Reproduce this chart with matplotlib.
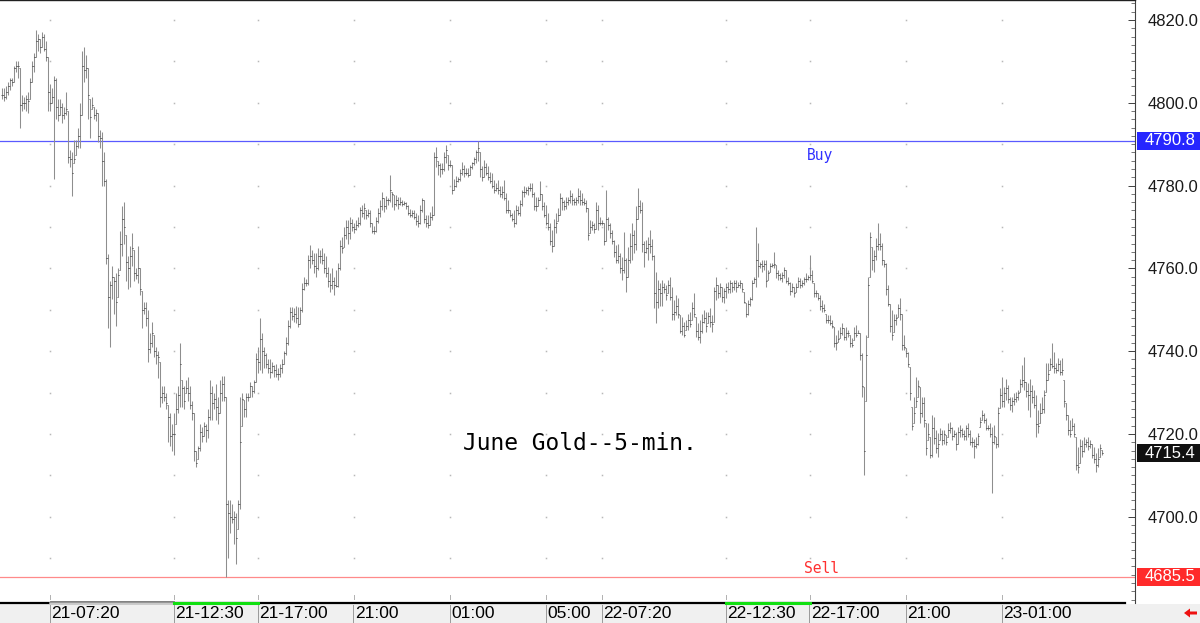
import numpy as np
import matplotlib
matplotlib.use("Agg")
import matplotlib.pyplot as plt
from matplotlib.patches import Rectangle, Polygon
from matplotlib.lines import Line2D

# ---------------- data (5-min bars) ----------------
HIGH = [
 4803.5,4803.5,4804,4805,4806,4806,4809,4810,4810,4808.5,4802,4801.5,4802,4802.5,4806,4810,4812,4817.5,4816.5,4815.5,
 4817,4816.5,4815,4811,4804.5,4803.5,4806.5,4806,4801,4801,4800,4799,4802.5,4798,4788.5,4788,4791,4791,4794,4800,
 4812.5,4813.5,4811.5,4808.5,4801,4801.5,4799,4798.5,4797.5,4793.5,4793,4788,4781.5,4763.5,4757,4760.5,4758,4759,4760,4769,
 4775,4776,4768,4763,4765.5,4768.5,4764.5,4760,4765.5,4760,4754.5,4752,4752,4750,4744.5,4747,4744,4741,4740,4737.5,
 4731.5,4731.5,4730,4727,4725,4722.5,4725,4730,4731.5,4742,4733,4731.5,4733,4733.8,4731.5,4728,4725,4716,4717,4722.5,
 4721.7,4723,4722.5,4726,4733,4731.5,4730,4732,4729,4733,4734,4734,4729,4704,4704,4703,4701.5,4701,4704,4729,
 4730,4728.2,4730,4730,4732.5,4731.5,4733,4739.6,4741,4748,4744.4,4741,4739.6,4738,4738,4737.5,4736.6,4737,4736,4737,
 4738,4740,4743.4,4747.5,4750.7,4750.7,4750.5,4751,4750.7,4750.7,4756.5,4758,4757.5,4763.3,4765.7,4764.5,4763.7,4763.7,4765,4764.5,
 4765,4763.7,4763,4760.3,4759,4760,4758,4759.5,4761.3,4766.8,4767.6,4770,4771.7,4771.7,4772.4,4772,4771,4771.7,4772.4,4774.8,
 4775.2,4775.7,4774,4774.4,4774,4771,4770.2,4772.4,4774.6,4776.5,4778.5,4777,4777.5,4777,4782.6,4778.5,4777.7,4777.7,4777.3,4777.3,
 4776.6,4776.3,4776,4775.3,4774.4,4774,4774,4773.4,4773,4775.3,4777,4776.5,4773,4772.9,4773.6,4775,4788,4789.3,4786,4785.5,
 4785.5,4788,4789.8,4787.4,4786.3,4785,4781.5,4782.4,4782,4784,4785.7,4785,4784.3,4784.3,4785,4785.7,4786.8,4788.6,4790.8,4788,
 4784.7,4786.3,4785.5,4784.7,4783.3,4783,4781.4,4780.6,4781.4,4780,4780,4781.4,4778.2,4776.5,4774,4773.4,4774,4775.2,4775,4776.5,
 4779,4780,4779.6,4780,4780.6,4780.6,4778.5,4777.3,4777.3,4781,4778,4776,4775.3,4773.4,4771,4769.3,4772,4773.4,4774.5,4778.2,
 4777.3,4776.5,4777.3,4777.3,4779,4778.2,4777,4777.3,4779.4,4779,4778.2,4777,4776.5,4774.5,4771.7,4771.4,4771,4776,4775.3,4772.4,
 4771.7,4771,4779,4772.4,4771,4769.3,4766.8,4765.7,4766,4763.7,4762.8,4768.8,4762.5,4765.2,4768.5,4771,4769.3,4775,4779.4,4776.5,
 4776,4766.5,4766.9,4767.7,4769.3,4767,4763.2,4759.2,4757.2,4756.4,4757.2,4756.4,4756,4757.2,4758,4755.6,4752.4,4753.6,4752.8,4748.7,
 4748.3,4747.1,4747.5,4749.1,4749.5,4752,4754,4748.3,4746.7,4747.5,4749.1,4749.9,4749.5,4749.5,4750.4,4748.7,4755.6,4758,4756,4756.4,
 4755.6,4755.2,4756.4,4756.8,4757.2,4756.8,4757.2,4757.2,4756.8,4757.2,4756.4,4754.4,4751.6,4752.4,4753.2,4757.2,4758,4770.1,4766.1,4761.6,
 4762,4762,4762,4759.6,4761.2,4761.2,4764,4760.8,4759.6,4758.8,4759.2,4760.4,4759.6,4758,4756.8,4756.4,4755.6,4756.4,4758,4757.6,
 4757.2,4758,4758.8,4758.4,4763.2,4759.6,4756.4,4754.8,4754,4753.6,4752.4,4751.5,4749.1,4748.7,4748.7,4747.5,4745.9,4743.9,4745.1,4745.9,
 4746.7,4745.5,4745.9,4745.1,4743.9,4743.1,4745.9,4746.3,4745.1,4744.3,4739.5,4731.4,4744,4758,4768.9,4765.2,4764.4,4767.3,4770.9,4768.5,
 4766.1,4762,4761.2,4756,4751.5,4750,4749.1,4749.1,4751.5,4752.8,4749,4743.9,4740.7,4739.9,4736.3,4726.6,4729,4733.8,4733,4731.4,
 4729,4729,4722.6,4722.6,4719.3,4724.6,4724.2,4721,4720.2,4721.4,4721,4721,4719.7,4722.6,4723,4721.8,4721,4720.6,4721.8,4722.2,
 4721.4,4721,4722.2,4722.6,4721,4719.3,4718.9,4719.3,4720.2,4724.2,4725.8,4725,4723.8,4722.2,4722.6,4721.8,4722.2,4719.3,4726.6,4731,
 4733.8,4731.4,4733.4,4731.8,4729,4729,4729.8,4730.2,4730.6,4733.4,4736.7,4738.7,4732.6,4732.2,4733.4,4731.8,4730.6,4729.4,4725.8,4727.4,
 4729,4730.6,4737.1,4737.1,4738.3,4741.9,4739.9,4737.1,4738.3,4737.9,4738.3,4733,4727.4,4724.6,4723.4,4723.8,4722.6,4719.3,4716.9,4718.9,
 4718.5,4719.3,4718.9,4719.3,4718.5,4717.7,4716.9,4715.3,4716.5,4717.7,4716.1]

LOW = [
 4801,4800.5,4801,4802,4803,4804,4805,4807.5,4806,4794,4798,4798.5,4798,4797.5,4801,4805,4807.5,4811,4812.5,4812,
 4813.5,4812.5,4810,4798,4798,4800,4781.5,4796,4795.5,4797,4795,4796,4797,4785.5,4784.5,4777.5,4785.5,4787.5,4789,4789,
 4797,4805,4806,4796,4791.5,4798.5,4796,4795.5,4790.5,4789,4780,4780,4761,4745.5,4741,4752.5,4749,4746,4753,4759.5,
 4763,4766,4757,4755,4755.5,4760.5,4757,4757.5,4756.5,4753.5,4745.5,4749,4746,4737.5,4739.5,4741,4738.5,4737,4733.5,4726.5,
 4727.5,4728,4726,4718,4717,4716,4715,4722.5,4725,4726.5,4726.5,4726,4730,4728,4726,4723.5,4713.5,4712,4714,4716,
 4718,4719.5,4718,4719,4723.5,4723.5,4726,4723.5,4722.5,4725,4728,4728,4685.5,4690,4696,4698.5,4693.5,4688.5,4697,4702,
 4722,4724,4724,4728,4729,4729,4730,4732.5,4734.7,4735.5,4734.7,4736,4736,4734.7,4733.5,4734.7,4733.8,4733.8,4733,4733.8,
 4734.7,4737,4739,4741.5,4745.5,4747.5,4747,4746.8,4745.8,4746.5,4749.5,4754.8,4755.8,4756,4760,4761,4759,4758,4759.6,4761.4,
 4761,4759,4758,4755.5,4754.3,4755,4753.6,4755.5,4755.5,4759.5,4763.7,4765.2,4767,4766,4767,4769,4768.5,4769.3,4770,4770.5,
 4772.4,4772,4772,4772.4,4770,4768.6,4768.3,4768.8,4771,4772.4,4774,4773.7,4774.4,4775.2,4776,4774.8,4774,4775,4774.4,4775.2,
 4775,4775.4,4774.4,4772.9,4772.4,4772.4,4772,4770.5,4770,4770.8,4773.6,4771,4770,4769.7,4770.5,4771.6,4773,4784.5,4782.6,4782,
 4782.8,4783.5,4785.5,4783.8,4784.5,4778,4779,4779.6,4780.8,4781,4782.6,4782,4782.6,4782,4782.5,4784,4785,4785.5,4786,4782,
 4781,4782,4782.6,4781.4,4780.6,4779.4,4778.2,4778.6,4778,4777.3,4777,4776.5,4773.4,4773.4,4772.4,4771.4,4770,4770.8,4772.9,4772.6,
 4775,4777.3,4778,4777.7,4778.6,4777.3,4774.1,4773.8,4775,4776.5,4774,4772.4,4770.5,4769.3,4765.7,4764,4765.5,4768.5,4771.4,4773,
 4774,4774,4774.4,4775.2,4775.8,4775.4,4775.4,4775.4,4775.8,4775.4,4775.4,4775.4,4773.7,4766.8,4768.6,4769.3,4768.6,4769.5,4769.3,4770.4,
 4770.4,4765.7,4766.5,4769.3,4767.3,4766,4762.8,4761.3,4761.3,4758.9,4757.2,4759,4754.3,4758,4761.3,4762,4763.7,4764.5,4772,4773.4,
 4764,4760.4,4763.6,4762,4763.6,4762,4750.4,4746.7,4750.4,4750.8,4750.8,4754,4752.4,4754,4752.4,4747.5,4747.5,4748.7,4747.9,4744.3,
 4743.9,4743.5,4745.1,4745.1,4745.9,4747.5,4748.3,4743.5,4742.7,4741.9,4744.3,4746.7,4744.7,4746.7,4745.9,4744.7,4747.1,4752.4,4752.8,4753.2,
 4752,4751.6,4752.8,4754,4754,4754.4,4754.8,4754.4,4755.6,4755.2,4754.4,4751.6,4748.3,4748.7,4750.8,4752.4,4756.4,4755.6,4758,4760,
 4759.2,4759.6,4755.6,4757.2,4759.2,4760.4,4760,4757.6,4757.2,4757.2,4756.8,4757.6,4756.4,4756,4753.6,4754.4,4753.2,4754.4,4755.6,4755.2,
 4755.6,4756,4756.8,4757.2,4757.2,4756.4,4753.2,4753.2,4752.4,4749.9,4749.5,4749.5,4746.7,4746.7,4746.3,4745.5,4741.1,4740.3,4742.3,4743.1,
 4743.9,4742.7,4742.7,4743.5,4741.1,4741.1,4742.7,4743.5,4744.3,4737.9,4729,4710.1,4728,4743.5,4758,4759.6,4759.2,4762,4764.4,4764.4,
 4760.8,4760.4,4753.6,4750.8,4744.7,4742.7,4744.7,4746.3,4748.3,4747.5,4740.3,4740.3,4738.7,4736.3,4728.2,4721,4722.6,4726.6,4729,4722.6,
 4724.2,4721.8,4714.9,4718.5,4714.1,4714.5,4717.7,4715.3,4714.5,4718.5,4717.3,4717.7,4717.3,4719.3,4720.2,4718.5,4719.3,4716.1,4717.7,4719.3,
 4719.3,4718.5,4718.5,4719.3,4717.3,4716.9,4714.1,4716.5,4717.3,4721.8,4723.4,4722.6,4721,4721,4719.3,4705.7,4717.7,4716.5,4716.9,4726.2,
 4726.6,4726.6,4728.2,4727.4,4725.8,4725.4,4727,4727.8,4728.2,4730.2,4731.4,4730.6,4729,4725.8,4724.2,4727.4,4726.2,4719.3,4720.2,4722.6,
 4725,4725,4730.2,4733,4735.5,4735.9,4734.7,4734.7,4735.1,4734.3,4734.3,4726.6,4723.4,4719.7,4719.3,4721,4719.3,4711.3,4710.5,4712.9,
 4714.5,4715.7,4716.9,4716.1,4716.5,4714.1,4712.9,4710.9,4712.1,4714.5,4714.9]

CLOSE = [
 4802,4801.5,4802.5,4804,4805.5,4805,4808.5,4809,4809,4799.5,4800,4800,4801,4800.5,4805,4809,4811,4815,4815.5,4813.5,
 4816,4813,4811,4802.5,4800,4801.5,4805.5,4799,4797,4799,4797,4797.5,4798.5,4787,4786.5,4783,4786.5,4789.5,4792,4797,
 4809,4808,4808.5,4802,4796.5,4799.5,4797,4797.5,4792,4791.5,4786,4781,4762.5,4753,4756,4758,4757,4752,4758.5,4766,
 4772,4770,4761.5,4760,4763,4765,4759,4758.5,4760,4755,4750,4750.5,4748,4740.5,4742,4744.5,4740,4739,4738.5,4729,
 4730,4729,4727.5,4724,4719.5,4720,4720,4726,4729.5,4737,4731,4728,4731,4730,4727,4725,4716,4713,4716.5,4720.5,
 4719.5,4722,4721,4724,4730,4727.5,4728.5,4726.5,4725,4730,4732,4729,4703,4701,4700,4699.5,4700,4695,4703,4718,
 4728.5,4726,4729,4729,4731.5,4730.5,4732.5,4738,4737.5,4743,4740,4739,4737,4736,4735,4736.5,4735.5,4734.5,4734.5,4736,
 4737,4739.5,4742,4746,4749.5,4748.5,4749,4748,4746.5,4750,4755,4756.5,4756.5,4762,4763,4762,4760.5,4760,4763,4763,
 4762,4760,4759,4757,4756,4757,4756,4755.8,4760,4765.5,4765,4768,4770,4768.5,4771,4770,4769.5,4770.5,4771,4774,
 4773.5,4774.5,4773,4773.5,4771,4769,4769,4771.5,4773.5,4775,4777,4775,4776.5,4776.5,4779,4778,4775.5,4776.5,4775.5,4776,
 4775.5,4775.8,4775,4773.5,4773,4773.5,4772.5,4771.5,4771,4774,4776.5,4772,4771,4770.5,4772.5,4773,4787,4787,4785,4784,
 4784,4787,4788.5,4785,4785,4779,4780,4781,4781.5,4783,4784,4783,4783,4782.5,4784.5,4785.5,4786.5,4788,4789,4784,
 4782,4784.5,4783,4782,4781,4780,4779,4779.5,4779,4778,4778.5,4777,4774,4774,4773,4772,4771,4774,4773.5,4775.5,
 4778.5,4778.5,4779,4779.5,4779.5,4778,4775,4775,4776.5,4778,4775,4773,4771,4770,4766.5,4765.5,4770,4771,4773,4777,
 4776,4775,4776,4776.5,4777.5,4776.5,4776,4776.5,4777.5,4776.5,4776,4775.8,4774.5,4768,4770,4770.5,4769.5,4774,4771,4771,
 4771,4766.5,4772,4770.5,4768.5,4766.5,4764,4762,4763,4760,4759.5,4762,4758,4762,4765.5,4768,4766,4772,4775,4774,
 4766,4764,4765,4766,4765.5,4763,4754,4752,4755,4754,4755.5,4755,4753.5,4756,4753,4749,4749.5,4751,4749,4745,
 4746,4744,4746,4747.5,4746.5,4750.5,4749,4745,4743.5,4745,4747,4748,4746,4748.5,4747,4746.5,4754.5,4756,4754,4755.5,
 4753,4754.5,4755.5,4755,4756.5,4755.5,4756.5,4755.5,4756,4756.5,4755,4752,4749,4751.5,4752.5,4756.5,4757.5,4762,4760.5,4761,
 4760.5,4761,4757,4759,4760.5,4760.8,4761,4759,4758.5,4757.6,4758.5,4759.5,4757,4756.5,4754.5,4755.5,4754,4755.5,4757,4756,
 4756.5,4757.5,4757.5,4758,4758.5,4757,4754,4754,4752.8,4751,4750.5,4750,4747.5,4747.5,4746.8,4746,4742,4742,4743,4744.5,
 4745.5,4743.5,4744.5,4744.5,4742,4741.5,4744.5,4744,4744.5,4739,4731.5,4716,4739,4756,4767.5,4762,4763,4765.5,4766,4765.5,
 4762,4761,4755,4751.5,4746,4744,4747.5,4748,4750.5,4749,4741.5,4741,4739.5,4737,4730,4722,4725,4728,4731.5,4725,
 4727.5,4723.5,4716.5,4720,4715,4721.5,4719,4716.5,4717.5,4720,4718.5,4720,4718,4721,4721.5,4719.5,4720,4717.5,4720.5,4721,
 4720,4719.5,4721.5,4720,4718,4718,4717,4717.5,4719.5,4723,4724.5,4723.5,4721.5,4721.5,4720,4718,4719.5,4717.5,4725,4729.5,
 4728,4730,4731,4728.5,4727,4728,4728.5,4729,4730,4732,4733,4732.5,4730.5,4729.5,4730.5,4729,4727,4722.5,4722,4725,
 4726,4729.5,4733,4734.5,4737,4736.5,4736,4735.5,4737,4735,4735.5,4728,4724.5,4721,4720,4722,4720,4712.5,4712,4717,
 4716,4717.5,4718,4717,4717.5,4715,4714,4712.5,4714,4716.5,4715.4]

TIME_TICKS = [24, 86, 128, 176, 224, 272, 300, 362, 404, 452, 500]
TIME_LABELS = ["21-07:20", "21-12:30", "21-17:00", "21:00", "01:00", "05:00",
               "22-07:20", "22-12:30", "22-17:00", "21:00", "23-01:00"]
DAY_SESSIONS = [(86, 128), (362, 404)]
PRICE_TICKS = [4700, 4720, 4740, 4760, 4780, 4800, 4820]
BUY_PRICE = 4790.8
SELL_PRICE = 4685.5
LAST_PRICE = 4715.4
TITLE = "June Gold--5-min."

# ---------------- figure ----------------
W, H = 1200, 623
fig = plt.figure(figsize=(W / 100, H / 100), dpi=100)
fig.patch.set_facecolor("white")

# bottom label strip
fig.add_artist(Rectangle((0, 0), 1, 19 / H, transform=fig.transFigure,
                         facecolor="#f0f0f0", edgecolor="none", zorder=0))

ax = fig.add_axes([0, 20 / H, 1135 / W, 603 / H])
ax.set_facecolor("white")

hi = np.array(HIGH, float)
lo = np.array(LOW, float)
cl = np.array(CLOSE, float)
n = len(cl)
x = np.arange(n)
op = np.clip(np.r_[cl[0], cl[:-1]], lo, hi)

ax.set_xlim(-0.75, 566.75)
ax.set_ylim(4679.18, 4824.83)

# sparse dotted grid
for t in TIME_TICKS:
    ys = np.arange(4690, 4821, 10)
    ax.plot(np.full(len(ys), t), ys, linestyle="none", marker="s", ms=1.1,
            mew=0, color="#b8b8b8", zorder=1)

# buy / sell lines
ax.axhline(BUY_PRICE, color="#5a5aff", lw=0.9, zorder=2)
ax.axhline(SELL_PRICE, color="#ff8a8a", lw=0.9, zorder=2)

# OHLC bars
ax.vlines(x, lo, hi, color="#8e8e8e", lw=0.75, zorder=3)
ax.hlines(op, x - 0.5, x, color="#6a6a6a", lw=0.7, zorder=4)
ax.hlines(cl, x, x + 0.5, color="#3a3a3a", lw=0.7, zorder=4)

# texts inside plot
mono = ["DejaVu Sans Mono"]
ax.text(409.25, 4787.15, "Buy", color="#3030ff", fontsize=10.5, family=mono,
        ha="center", va="center")
ax.text(410.0, 4687.6, "Sell", color="#ff3030", fontsize=10.5, family=mono,
        ha="center", va="center")
ax.text(289.25, 4717.6, TITLE, color="black", fontsize=16.5, family=mono,
        ha="center", va="center")

# spines / axes
for s in ("left", "bottom"):
    ax.spines[s].set_visible(False)
ax.spines["top"].set_color("#202020")
ax.spines["top"].set_linewidth(1.0)
ax.spines["right"].set_color("#404040")
ax.spines["right"].set_linewidth(0.8)
ax.set_xticks([])
ax.yaxis.tick_right()
ax.set_yticks(PRICE_TICKS)
ax.set_yticklabels([f"{p:.1f}" for p in PRICE_TICKS])
ax.set_yticks(np.arange(4680, 4825, 2), minor=True)
ax.tick_params(axis="y", which="major", direction="in", length=5, width=0.7,
               color="#404040", pad=9, labelsize=12, labelcolor="#1a1a1a")
ax.tick_params(axis="y", which="minor", direction="in", length=3, width=0.6,
               color="#606060")
for lab in ax.get_yticklabels():
    lab.set_family(["Liberation Sans", "DejaVu Sans"])

# bottom time axis line
xt = ax.get_xaxis_transform()
x0, x1 = ax.get_xlim()
ax.add_line(Line2D([x0, x1 - 5], [0, 0], transform=xt, color="black", lw=1.6,
                   clip_on=False, zorder=5))
ax.add_line(Line2D([TIME_TICKS[0], TIME_TICKS[1]], [0, 0], transform=xt,
                   color="#c8c8c8", lw=1.8, clip_on=False, zorder=6))
ax.add_line(Line2D([TIME_TICKS[0], TIME_TICKS[1]], [0.0025, 0.0025], transform=xt,
                   color="#707070", lw=0.6, clip_on=False, zorder=7))
for a, b in DAY_SESSIONS:
    ax.add_line(Line2D([a, b], [0, 0], transform=xt, color="#10e010", lw=2.2,
                       clip_on=False, zorder=6))

# time labels with separators
for t, lab in zip(TIME_TICKS, TIME_LABELS):
    xp = (t - x0) / (x1 - x0) * 1135 / W
    fig.add_artist(Line2D([xp, xp], [0, 18 / H], transform=fig.transFigure,
                          color="#9a9a9a", lw=0.7))
    ax.add_line(Line2D([t, t], [0.006, 0.013], transform=xt, color="#b0b0b0",
                       lw=0.7, clip_on=False))
    fig.text(xp + 2 / W, 9.5 / H, lab, fontsize=12.5, color="black",
             family=["Liberation Sans", "DejaVu Sans"], ha="left", va="center")

# price flags on the right axis
def price_to_fig_y(p):
    y0, y1 = ax.get_ylim()
    return (20 + (p - y0) / (y1 - y0) * 603) / H

for p, col in ((BUY_PRICE, "#2626ff"), (LAST_PRICE, "#111111"), (SELL_PRICE, "#ff2a2a")):
    fy = price_to_fig_y(p)
    fig.add_artist(Rectangle((1137 / W, fy - 9 / H), 63 / W, 18 / H,
                             transform=fig.transFigure, facecolor=col,
                             edgecolor="none", zorder=5))
    fig.text(1145 / W, fy, f"{p:.1f}", fontsize=12, color="white",
             family=["Liberation Sans", "DejaVu Sans"], ha="left", va="center",
             zorder=6)

# red arrow bottom right
pts = [(1184, 10), (1190, 14.5), (1190, 11.5), (1197, 11.5), (1197, 8.5),
       (1190, 8.5), (1190, 5.5)]
fig.add_artist(Polygon([(px / W, py / H) for px, py in pts], closed=True,
                       transform=fig.transFigure, facecolor="#ee1111",
                       edgecolor="none"))

fig.savefig("out.png", dpi=100, facecolor="white")
